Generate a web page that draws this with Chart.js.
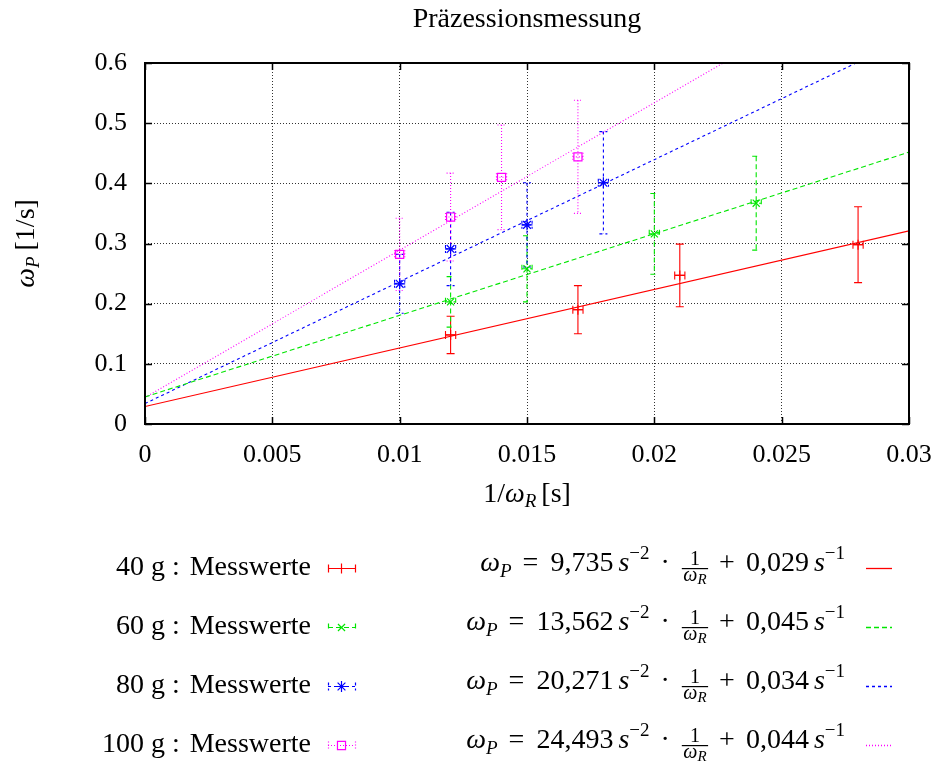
<!DOCTYPE html>
<html><head><meta charset="utf-8">
<script src="https://cdn.jsdelivr.net/npm/chart.js@4.4.0/dist/chart.umd.min.js"></script>
<style>html,body{margin:0;padding:0;background:#fff;}#wrap{position:relative;width:938px;height:763px;}</style>
</head><body><div id="wrap"><canvas id="c" width="938" height="763"></canvas></div>
<script>
// ---- data ----
const chartTitle = 'Präzessionsmessung';
const xTicks = [0, 0.005, 0.01, 0.015, 0.02, 0.025, 0.03];
const xTickLabels = ['0', '0.005', '0.01', '0.015', '0.02', '0.025', '0.03'];
const yTicks = [0, 0.1, 0.2, 0.3, 0.4, 0.5, 0.6];
const yTickLabels = ['0', '0.1', '0.2', '0.3', '0.4', '0.5', '0.6'];

const seriesMasses = ['40 g', '60 g', '80 g', '100 g'];
const seriesLabels = ['40 g : Messwerte', '60 g : Messwerte', '80 g : Messwerte', '100 g : Messwerte'];

const x40 = [0.012, 0.017, 0.021, 0.028];
const y40 = [0.148, 0.190, 0.247, 0.298];
const e40 = [0.031, 0.040, 0.052, 0.063];

const x60 = [0.012, 0.015, 0.020, 0.024];
const y60 = [0.203, 0.258, 0.316, 0.367];
const e60 = [0.042, 0.055, 0.067, 0.078];

const x80 = [0.010, 0.012, 0.015, 0.018];
const y80 = [0.233, 0.291, 0.331, 0.401];
const e80 = [0.049, 0.061, 0.070, 0.085];

const x100 = [0.010, 0.012, 0.014, 0.017];
const y100 = [0.282, 0.344, 0.410, 0.444];
const e100 = [0.060, 0.073, 0.087, 0.094];

const xErr = 0.0002;

const fitSlopes = [9.735, 13.562, 20.271, 24.493];
const fitIntercepts = [0.029, 0.045, 0.034, 0.044];
const fitSlopeLabels = ['9,735', '13,562', '20,271', '24,493'];
const fitInterceptLabels = ['0,029', '0,045', '0,034', '0,044'];
const fitRange = [0, 0.03];

// ---- styles ----
const colors = ['#ff0000', '#00e600', '#0000ff', '#ff00ff'];
const dashes = [[], [5, 3], [3, 3], [1, 2]];
const pointStyles = ['cross', 'crossRot', 'star', 'rect'];
const pointRadii = [5, 5, 5.5, 5.7];

const pts = [[x40, y40, e40], [x60, y60, e60], [x80, y80, e80], [x100, y100, e100]];

const SERIF = '"Liberation Serif", "Times New Roman", serif';

const datasets = [];
pts.forEach((p, k) => {
  datasets.push({
    type: 'scatter',
    label: seriesLabels[k],
    data: p[0].map((xv, i) => ({x: xv, y: p[1][i]})),
    pointStyle: pointStyles[k],
    pointRadius: pointRadii[k],
    pointBorderWidth: 1.2,
    borderColor: colors[k],
    backgroundColor: 'rgba(0,0,0,0)',
    showLine: false
  });
  datasets.push({
    type: 'scatter',
    label: 'fit ' + seriesMasses[k],
    data: fitRange.map(xv => ({x: xv, y: fitSlopes[k] * xv + fitIntercepts[k]})),
    showLine: true,
    pointRadius: 0,
    borderColor: colors[k],
    borderWidth: 1.1,
    borderDash: dashes[k],
    fill: false
  });
});

function partWidth(ctx, p) {
  if (p.gap !== undefined) return p.gap;
  if (p.frac) return p.w;
  ctx.font = p.font; return ctx.measureText(p.t).width;
}
function drawRich(ctx, parts, x, y, align) {
  let w = 0; parts.forEach(p => { w += partWidth(ctx, p); });
  let cx = align === 'right' ? x - w : (align === 'center' ? x - w / 2 : x);
  ctx.textBaseline = 'alphabetic';
  ctx.textAlign = 'left';
  parts.forEach(p => {
    const pw = partWidth(ctx, p);
    if (p.frac) p.draw(ctx, cx, y);
    else if (p.t !== undefined) { ctx.font = p.font; ctx.fillText(p.t, cx, y + (p.dy || 0)); }
    cx += pw;
  });
}

const fRom = '28px ' + SERIF, fIt = 'italic 28px ' + SERIF;
const sRom = '19px ' + SERIF, sIt = 'italic 19px ' + SERIF;
const qRom = '20px ' + SERIF, qIt = 'italic 20px ' + SERIF, tIt = 'italic 15px ' + SERIF;

function makeFrac(ctx) {
  ctx.font = qIt; const wOm = ctx.measureText('ω').width;
  ctx.font = tIt; const wR = ctx.measureText('R').width;
  ctx.font = qRom; const w1 = ctx.measureText('1').width;
  const inner = Math.max(wOm + wR, w1) + 3;
  return {frac: true, w: inner + 2, draw(c, x, y) {
    c.fillStyle = '#000';
    c.font = qRom; c.fillText('1', x + 1 + (inner - w1) / 2, y - 6);
    c.fillRect(x + 1, y - 3, inner, 1.2);
    const dx = x + 1 + (inner - wOm - wR) / 2;
    c.font = qIt; c.fillText('ω', dx, y + 10);
    c.font = tIt; c.fillText('R', dx + wOm, y + 13);
  }};
}

const rowY = [568, 627, 686, 745];

const decorPlugin = {
  id: 'decor',
  beforeDatasetsDraw(chart) {
    const ctx = chart.ctx, xs = chart.scales.x, ys = chart.scales.y, a = chart.chartArea;
    ctx.save();
    ctx.beginPath(); ctx.rect(a.left, a.top, a.right - a.left, a.bottom - a.top); ctx.clip();
    pts.forEach((p, k) => {
      ctx.strokeStyle = colors[k]; ctx.lineWidth = 1.1; ctx.setLineDash(dashes[k]);
      p[0].forEach((xv, i) => {
        const px = xs.getPixelForValue(xv), py = ys.getPixelForValue(p[1][i]);
        const t = ys.getPixelForValue(p[1][i] + p[2][i]), b = ys.getPixelForValue(p[1][i] - p[2][i]);
        const l = xs.getPixelForValue(xv - xErr), r = xs.getPixelForValue(xv + xErr);
        ctx.beginPath();
        ctx.moveTo(px, t); ctx.lineTo(px, b);
        ctx.moveTo(px - 4, t); ctx.lineTo(px + 4, t);
        ctx.moveTo(px - 4, b); ctx.lineTo(px + 4, b);
        ctx.moveTo(l, py); ctx.lineTo(r, py);
        ctx.moveTo(l, py - 4); ctx.lineTo(l, py + 4);
        ctx.moveTo(r, py - 4); ctx.lineTo(r, py + 4);
        ctx.stroke();
      });
    });
    ctx.restore();
  },
  afterDraw(chart) {
    const ctx = chart.ctx, xs = chart.scales.x, ys = chart.scales.y, a = chart.chartArea;
    ctx.save();
    // frame
    ctx.strokeStyle = '#000'; ctx.lineWidth = 2; ctx.setLineDash([]);
    ctx.strokeRect(a.left, a.top, a.right - a.left, a.bottom - a.top);
    // inward ticks
    ctx.lineWidth = 1.5; ctx.beginPath();
    xTicks.forEach(v => { const px = Math.round(xs.getPixelForValue(v)) + 0.5;
      ctx.moveTo(px, a.bottom); ctx.lineTo(px, a.bottom - 7); ctx.moveTo(px, a.top); ctx.lineTo(px, a.top + 7); });
    yTicks.forEach(v => { const py = Math.round(ys.getPixelForValue(v)) + 0.5;
      ctx.moveTo(a.left, py); ctx.lineTo(a.left + 7, py); ctx.moveTo(a.right, py); ctx.lineTo(a.right - 7, py); });
    ctx.stroke();

    ctx.fillStyle = '#000';
    // title
    ctx.font = fRom; ctx.textAlign = 'center'; ctx.textBaseline = 'alphabetic';
    ctx.fillText(chartTitle, (a.left + a.right) / 2, 27);
    // x axis title
    drawRich(ctx, [{t: '1/', font: fRom}, {t: 'ω', font: fIt}, {t: 'R', font: sIt, dy: 5}, {gap: 5}, {t: '[s]', font: fRom}], (a.left + a.right) / 2, 502, 'center');
    // y axis title
    ctx.save();
    ctx.translate(34, (a.top + a.bottom) / 2);
    ctx.rotate(-Math.PI / 2);
    drawRich(ctx, [{t: 'ω', font: fIt}, {t: 'P', font: sIt, dy: 5}, {gap: 6}, {t: '[1/s]', font: fRom}], 0, 0, 'center');
    ctx.restore();

    // legend
    const drawPoint = Chart.helpers && Chart.helpers.drawPoint;
    rowY.forEach((ry, k) => {
      ctx.fillStyle = '#000';
      drawRich(ctx, [{t: seriesMasses[k], font: fRom}, {gap: 7}, {t: ':', font: fRom}, {gap: 10}, {t: 'Messwerte', font: fRom}], 311, ry + 7, 'right');
      // point sample
      ctx.strokeStyle = colors[k]; ctx.lineWidth = 1.2; ctx.setLineDash(dashes[k]);
      ctx.beginPath();
      ctx.moveTo(328, ry + 0.5); ctx.lineTo(355, ry + 0.5);
      ctx.moveTo(328.5, ry - 3.5); ctx.lineTo(328.5, ry + 4.5);
      ctx.moveTo(355.5, ry - 3.5); ctx.lineTo(355.5, ry + 4.5);
      ctx.stroke();
      ctx.setLineDash([]);
      if (drawPoint) {
        ctx.fillStyle = 'rgba(0,0,0,0)';
        ctx.lineWidth = 1.2;
        drawPoint(ctx, {pointStyle: pointStyles[k], radius: pointRadii[k], borderWidth: 1.2, rotation: 0}, 341.5, ry + 0.5);
      }
      // formula
      ctx.fillStyle = '#000';
      const parts = [
        {t: 'ω', font: fIt}, {t: 'P', font: sIt, dy: 6}, {gap: 11},
        {t: '=', font: fRom}, {gap: 12},
        {t: fitSlopeLabels[k], font: fRom}, {gap: 5},
        {t: 's', font: fIt}, {t: '−2', font: sRom, dy: -12}, {gap: 11},
        {t: '·', font: fRom}, {gap: 11}, makeFrac(ctx), {gap: 10},
        {t: '+', font: fRom}, {gap: 11},
        {t: fitInterceptLabels[k], font: fRom}, {gap: 5},
        {t: 's', font: fIt}, {t: '−1', font: sRom, dy: -12}
      ];
      drawRich(ctx, parts, 845, ry + 3, 'right');
      // line sample
      ctx.strokeStyle = colors[k]; ctx.lineWidth = 1.3; ctx.setLineDash(dashes[k]);
      ctx.beginPath(); ctx.moveTo(866, ry + 0.5); ctx.lineTo(892, ry + 0.5); ctx.stroke();
      ctx.setLineDash([]);
    });
    ctx.restore();
  }
};

new Chart(document.getElementById('c'), {
  type: 'scatter',
  data: {datasets},
  options: {
    responsive: false,
    animation: false,
    events: [],
    layout: {padding: {left: 0, right: 29, top: 63, bottom: 249}},
    plugins: {
      legend: {display: false},
      tooltip: {enabled: false},
      title: {display: false}
    },
    scales: {
      x: {
        type: 'linear', position: 'bottom', min: 0, max: 0.03,
        afterBuildTicks: s => { s.ticks = xTicks.map(v => ({value: v})); },
        afterFit: s => { s.height = 90; s.paddingLeft = 0; s.paddingRight = 0; },
        ticks: {callback: (v, i) => xTickLabels[i], color: '#000', padding: 16, maxRotation: 0, autoSkip: false,
          font: {family: SERIF, size: 26}},
        grid: {color: 'rgba(0,0,0,0.8)', lineWidth: 1, drawTicks: false},
        border: {display: false, dash: [1, 2]}
      },
      y: {
        type: 'linear', position: 'left', min: 0, max: 0.6,
        afterBuildTicks: s => { s.ticks = yTicks.map(v => ({value: v})); },
        afterFit: s => { s.width = 145; s.paddingTop = 0; s.paddingBottom = 0; },
        ticks: {callback: (v, i) => yTickLabels[i], color: '#000', padding: 18, autoSkip: false,
          font: {family: SERIF, size: 26}},
        grid: {color: 'rgba(0,0,0,0.8)', lineWidth: 1, drawTicks: false},
        border: {display: false, dash: [1, 2]}
      }
    }
  },
  plugins: [decorPlugin]
});
</script>
</body></html>
